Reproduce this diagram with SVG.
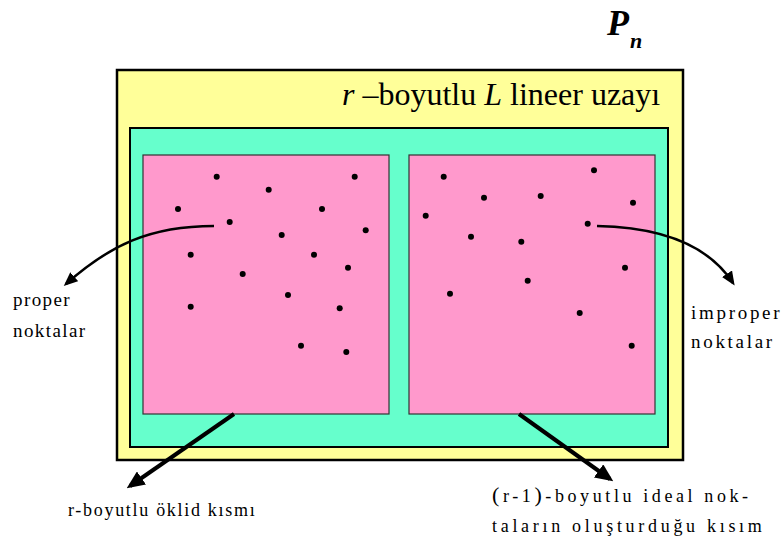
<svg xmlns="http://www.w3.org/2000/svg" width="783" height="543" viewBox="0 0 783 543">
<style>
text{font-family:'Times New Roman','Liberation Serif',Times,'DejaVu Serif',serif;fill:#000}
.lbl{font-size:18px}
.dot{fill:#000}
.conn{fill:none;stroke:#000;stroke-linecap:butt}
</style>
<defs>
<marker id="ah" markerUnits="userSpaceOnUse" markerWidth="14" markerHeight="12" refX="11" refY="6" orient="auto" viewBox="0 0 14 12">
<path d="M0,0 L14,6 L0,12 z" fill="#000"/>
</marker>
<marker id="ahb" markerUnits="userSpaceOnUse" markerWidth="18" markerHeight="16" refX="14" refY="8" orient="auto" viewBox="0 0 18 16">
<path d="M0,0 L18,8 L0,16 z" fill="#000"/>
</marker>
</defs>
<rect width="783" height="543" fill="#fff"/>
<g id="title">
<text x="607" y="35" font-size="36" font-style="italic" font-weight="bold">P</text>
<text x="630" y="48" font-size="22" font-style="italic" font-weight="bold">n</text>
</g>
<g id="lineer-uzay">
<rect x="117" y="70" width="566" height="390" fill="#FFFF99" stroke="#000" stroke-width="2.5"/>
<text x="342" y="105" font-size="32"><tspan font-style="italic">r</tspan> –boyutlu <tspan font-style="italic">L</tspan> lineer uzayı</text>
</g>
<g id="inner">
<rect x="130" y="128" width="538" height="319" fill="#66FFCC" stroke="#000" stroke-width="2"/>
</g>
<g id="oklid">
<rect x="143" y="155" width="246" height="259" fill="#FF99CC" stroke="#333" stroke-width="1.2"/>
<circle class="dot" cx="216.7" cy="176.7" r="3"/>
<circle class="dot" cx="354.7" cy="176.7" r="3"/>
<circle class="dot" cx="268.7" cy="189.7" r="3"/>
<circle class="dot" cx="178" cy="209" r="3"/>
<circle class="dot" cx="322" cy="209" r="3"/>
<circle class="dot" cx="229.7" cy="222" r="3"/>
<circle class="dot" cx="365.7" cy="230.3" r="3"/>
<circle class="dot" cx="281.7" cy="235" r="3"/>
<circle class="dot" cx="190.7" cy="254.7" r="3"/>
<circle class="dot" cx="314" cy="254.7" r="3"/>
<circle class="dot" cx="348" cy="267.7" r="3"/>
<circle class="dot" cx="242.7" cy="274" r="3"/>
<circle class="dot" cx="288" cy="295" r="3"/>
<circle class="dot" cx="190.7" cy="306.7" r="3"/>
<circle class="dot" cx="339.7" cy="308.3" r="3"/>
<circle class="dot" cx="301" cy="345.7" r="3"/>
<circle class="dot" cx="346.3" cy="352" r="3"/>
</g>
<g id="ideal">
<rect x="409" y="155" width="246" height="259" fill="#FF99CC" stroke="#333" stroke-width="1.2"/>
<circle class="dot" cx="443.7" cy="176.7" r="3"/>
<circle class="dot" cx="594" cy="170.3" r="3"/>
<circle class="dot" cx="484" cy="197.7" r="3"/>
<circle class="dot" cx="540.7" cy="196" r="3"/>
<circle class="dot" cx="633" cy="202.7" r="3"/>
<circle class="dot" cx="425.7" cy="215.7" r="3"/>
<circle class="dot" cx="587.7" cy="223.7" r="3"/>
<circle class="dot" cx="471" cy="236.7" r="3"/>
<circle class="dot" cx="521.3" cy="241.7" r="3"/>
<circle class="dot" cx="625" cy="267.7" r="3"/>
<circle class="dot" cx="527.7" cy="280.7" r="3"/>
<circle class="dot" cx="450" cy="293.7" r="3"/>
<circle class="dot" cx="579.7" cy="313" r="3"/>
<circle class="dot" cx="631.7" cy="345.7" r="3"/>
</g>
<g id="connectors">
<path class="conn" d="M214,226 C150,226 110,245 66,284" stroke-width="2.5" marker-end="url(#ah)"/>
<path class="conn" d="M597,226 C650,227 705,240 733,283" stroke-width="2.5" marker-end="url(#ah)"/>
<path class="conn" d="M234,414 L130,486" stroke-width="4" marker-end="url(#ahb)"/>
<path class="conn" d="M519,414 L610,479" stroke-width="4" marker-end="url(#ahb)"/>
</g>
<g id="label-proper">
<text x="13" y="306" font-size="19" letter-spacing="1.4">proper</text>
<text x="13" y="337" font-size="19" letter-spacing="1.4">noktalar</text>
</g>
<g id="label-improper">
<text x="691" y="319" font-size="19" letter-spacing="2.7">improper</text>
<text x="691" y="348" font-size="19" letter-spacing="2.7">noktalar</text>
</g>
<g id="label-oklid">
<text class="lbl" x="68" y="516" letter-spacing="1.7">r-boyutlu öklid kısmı</text>
</g>
<g id="label-ideal">
<text class="lbl" x="492" y="502" letter-spacing="3.6"><tspan font-size="22">(</tspan>r-1<tspan font-size="22">)</tspan>-boyutlu ideal nok-</text>
<text class="lbl" x="492" y="532" letter-spacing="3.7">taların oluşturduğu kısım</text>
</g>
</svg>
